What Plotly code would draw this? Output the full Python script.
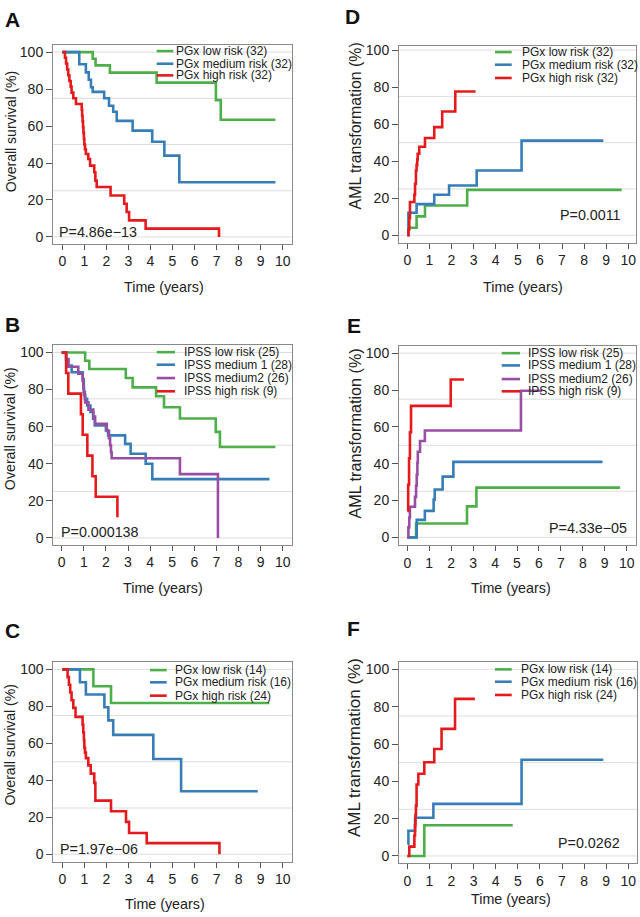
import plotly.graph_objects as go

W, H = 640, 917
GREEN = '#4daf4a'; BLUE = '#377eb8'; RED = '#e41a1c'; PURPLE = '#984ea3'
FONT = 'Liberation Sans, Arial, sans-serif'

# ---------------- data ----------------
# A: PGx overall survival
a_low_t = [0, 1.38, 1.51, 2.16, 4.28, 6.97, 7.19, 9.67]
a_low_s = [100, 96.4, 92.8, 88.9, 83.5, 74.0, 63.4, 63.4]
a_med_t = [0, 0.77, 1.07, 1.2, 1.3, 1.38, 1.9, 2.12, 2.31, 2.47, 3.19, 4.08, 4.63, 5.31, 9.67]
a_med_s = [100, 93.4, 89.0, 85.0, 81.0, 78.5, 75.0, 71.0, 67.7, 62.8, 57.5, 51.5, 44.0, 29.6, 29.6]
a_high_t = [0, 0.12, 0.17, 0.22, 0.27, 0.32, 0.38, 0.42, 0.5, 0.62, 0.88, 0.9, 0.92, 0.94, 0.96,
            0.98, 1.0, 1.03, 1.07, 1.18, 1.26, 1.45, 1.5, 1.56, 2.19, 2.81, 2.92, 3.03, 3.78, 7.11]
a_high_s = [100, 96.9, 93.8, 90.6, 87.5, 84.4, 81.3, 78.1, 75.0, 71.9, 68.8, 65.6, 62.5, 59.4, 56.3,
            53.1, 50.0, 47.4, 44.9, 42.2, 38.6, 35.0, 30.5, 27.0, 22.4, 18.0, 13.5, 9.0, 4.5, 0]

# B: IPSS overall survival
b_low_t = [0, 1.06, 1.25, 2.9, 3.21, 4.27, 4.63, 5.35, 6.97, 7.16, 9.67]
b_low_s = [100, 95.5, 91.1, 86.2, 81.2, 76.4, 70.5, 64.4, 57.2, 49.0, 49.0]
b_med1_t = [0, 0.2, 0.3, 0.45, 0.95, 1.0, 1.05, 1.15, 1.3, 1.42, 1.5, 2.0, 2.1, 2.87, 3.12, 3.8, 4.1, 9.4]
b_med1_s = [100, 96.4, 92.9, 89.3, 85.7, 78.6, 75.0, 71.4, 67.9, 64.3, 60.7, 58.0, 55.3, 50.7, 45.4, 40.0, 31.7, 31.7]
b_med2_t = [0, 0.2, 0.3, 0.75, 0.95, 0.98, 1.01, 1.06, 1.21, 1.43, 1.51, 2.04, 2.14, 2.19, 2.23, 2.26, 5.35, 7.07]
b_med2_s = [100, 96.2, 92.3, 88.5, 84.6, 80.8, 76.9, 73.1, 69.2, 65.4, 61.5, 57.7, 53.8, 50.0, 46.2, 43.0, 34.4, 0]
b_high_t = [0, 0.2, 0.3, 0.87, 0.95, 1.16, 1.39, 1.54, 2.52]
b_high_s = [100, 88.9, 77.8, 66.7, 55.6, 44.4, 33.3, 22.2, 11.1]

# C: PGx overall survival (validation)
c_low_t = [0, 1.41, 2.21, 9.39]
c_low_s = [100, 90.9, 81.8, 81.8]
c_med_t = [0, 0.8, 1.07, 1.91, 2.09, 2.31, 4.13, 5.39, 8.87]
c_med_s = [100, 93.0, 86.4, 79.5, 72.4, 64.6, 51.5, 34.1, 34.1]
c_high_t = [0, 0.24, 0.3, 0.36, 0.42, 0.5, 0.6, 0.92, 0.95, 0.98, 1.0, 1.03, 1.07, 1.18, 1.29,
            1.45, 1.5, 2.21, 2.89, 3.03, 3.83, 7.13]
c_high_s = [100, 95.8, 91.7, 87.5, 83.3, 79.2, 74.3, 70.1, 65.9, 61.8, 57.6, 55.0, 52.0, 48.1, 43.6,
            38.6, 29.0, 23.3, 17.5, 11.5, 6.0, 0]

# D: PGx AML transformation
d_low_t = [0, 0.42, 0.8, 2.71, 9.7]
d_low_s = [4.1, 10.2, 16.1, 24.5, 24.5]
d_med_t = [0, 0.05, 0.42, 1.22, 1.89, 3.14, 5.17, 8.87]
d_med_s = [0, 12.2, 16.8, 21.9, 26.9, 35.0, 51.1, 51.1]
d_high_t = [0, 0.05, 0.09, 0.12, 0.32, 0.35, 0.39, 0.42, 0.45, 0.47, 0.54, 0.8, 1.22, 1.58, 2.17, 3.09]
d_high_s = [0, 3.1, 9.4, 18.0, 21.9, 27.8, 35.0, 38.0, 41.0, 44.0, 47.8, 52.5, 58.4, 66.8, 77.6, 77.6]

# E: IPSS AML transformation
e_low_t = [0, 0.4, 2.72, 3.15, 9.7]
e_low_s = [0, 7.5, 16.8, 27.0, 27.0]
e_med1_t = [0, 0.43, 0.8, 1.2, 1.25, 1.61, 2.1, 8.9]
e_med1_s = [0, 9.5, 14.4, 20.5, 26.0, 33.0, 41.0, 41.0]
e_med2_t = [0, 0.05, 0.09, 0.12, 0.35, 0.4, 0.43, 0.46, 0.48, 0.58, 0.8, 5.18, 6.15]
e_med2_s = [0, 5.4, 10.8, 16.6, 22.0, 28.0, 34.0, 40.5, 46.5, 52.3, 58.0, 79.6, 79.6]
e_high_t = [0, 0.04, 0.08, 0.12, 0.17, 1.98, 2.58]
e_high_s = [14.3, 28.6, 42.9, 57.1, 71.4, 85.7, 85.7]

# F: PGx AML transformation (validation)
f_low_t = [0, 0.77, 4.77]
f_low_s = [0, 16.5, 16.5]
f_med_t = [0, 0.05, 0.35, 1.18, 5.17, 8.87]
f_med_s = [6.6, 13.5, 20.5, 27.9, 51.6, 51.6]
f_high_t = [0, 0.09, 0.32, 0.35, 0.37, 0.39, 0.42, 0.5, 0.77, 1.22, 1.55, 2.16, 3.06]
f_high_s = [0, 5.0, 11.0, 16.5, 22.0, 27.0, 38.3, 44.1, 50.2, 57.3, 68.1, 84.2, 84.2]

pgx32 = ['PGx low risk (32)', 'PGx medium risk (32)', 'PGx high risk (32)']
ipss = ['IPSS low risk (25)', 'IPSS medium 1 (28)', 'IPSS medium2 (26)', 'IPSS high risk (9)']
pgx_val = ['PGx low risk (14)', 'PGx medium risk (16)', 'PGx high risk (24)']

x_ticks = list(range(0, 11))
y_ticks = [0, 20, 40, 60, 80, 100]
grid_vals = [0, 25, 50, 75, 100]

# ---------------- layout helpers ----------------
def px(x):
    return x / W

def py(y):
    return 1 - y / H

panels = [
    dict(letter='A', lpos=(3, 16.5), box=(53, 292, 41.7, 241.7), xp=(62.3, 282.7), yp=(235, 49.3),
         series=[(a_low_t, a_low_s, GREEN), (a_med_t, a_med_s, BLUE), (a_high_t, a_high_s, RED)],
         labels=pgx32, leg_rows=[48.3, 61, 72.7], leg_line=(156.7, 173.3), leg_text=174,
         ytitle='Overall survival (%)', ytpos=(11.7, 129), ytsize=14,
         xtpos=(164, 285.7), pval='P=4.86e\u221213', ppos=(57.3, 230), palign='left'),
    dict(letter='B', lpos=(3, 322.5), box=(53.3, 292.3, 343.3, 544), xp=(61.7, 282.7), yp=(537.3, 351),
         series=[(b_low_t, b_low_s, GREEN), (b_med1_t, b_med1_s, BLUE), (b_med2_t, b_med2_s, PURPLE),
                 (b_high_t, b_high_s, RED)],
         labels=ipss, leg_rows=[350.7, 363.3, 376.7, 390], leg_line=(156.7, 175), leg_text=181.7,
         ytitle='Overall survival (%)', ytpos=(10, 428), ytsize=14.2,
         xtpos=(162.7, 587.3), pval='P=0.000138', ppos=(59.3, 531.7), palign='left'),
    dict(letter='C', lpos=(3, 630.5), box=(53.3, 292.3, 661.7, 862.3), xp=(62.3, 282.7), yp=(855, 669.3),
         series=[(c_low_t, c_low_s, GREEN), (c_med_t, c_med_s, BLUE), (c_high_t, c_high_s, RED)],
         labels=pgx_val, leg_rows=[670, 682.3, 695.7], leg_line=(150, 166.7), leg_text=173.3,
         ytitle='Overall survival (%)', ytpos=(10, 745.8), ytsize=14,
         xtpos=(164.5, 905), pval='P=1.97e\u221206', ppos=(58.3, 849.3), palign='left'),
    dict(letter='D', lpos=(343, 14), box=(399, 636, 42.7, 240.7), xp=(407.3, 628.3), yp=(233.3, 47.3),
         series=[(d_low_t, d_low_s, GREEN), (d_med_t, d_med_s, BLUE), (d_high_t, d_high_s, RED)],
         labels=pgx32, leg_rows=[49.3, 62, 75.3], leg_line=(495, 511.7), leg_text=520,
         ytitle='AML transformation (%)', ytpos=(355, 124), ytsize=15.9,
         xtpos=(523, 285), pval='P=0.0011', ppos=(622.7, 213.3), palign='right'),
    dict(letter='E', lpos=(345, 323.5), box=(399, 636, 345, 544.3), xp=(407.3, 626.7), yp=(536.7, 351.7),
         series=[(e_low_t, e_low_s, GREEN), (e_med1_t, e_med1_s, BLUE), (e_med2_t, e_med2_s, PURPLE),
                 (e_high_t, e_high_s, RED)],
         labels=ipss, leg_rows=[351.7, 364, 377.7, 390], leg_line=(501.7, 520), leg_text=526,
         ytitle='AML transformation (%)', ytpos=(355, 432.5), ytsize=16.2,
         xtpos=(510.8, 587.3), pval='P=4.33e\u221205', ppos=(629.3, 527.7), palign='right'),
    dict(letter='F', lpos=(345, 628.5), box=(399, 636.7, 662.3, 864), xp=(407.3, 628.3), yp=(856.7, 669.3),
         series=[(f_low_t, f_low_s, GREEN), (f_med_t, f_med_s, BLUE), (f_high_t, f_high_s, RED)],
         labels=pgx_val, leg_rows=[669.3, 681.7, 695], leg_line=(495, 511.7), leg_text=519.3,
         ytitle='AML transformation (%)', ytpos=(354, 748.3), ytsize=17,
         xtpos=(510.8, 900), pval='P=0.0262', ppos=(621.7, 843.3), palign='right'),
]

fig = go.Figure()
shapes = []
annotations = []
layout_axes = {}

for i, p in enumerate(panels, start=1):
    xs = '' if i == 1 else str(i)
    left, right, top, bottom = p['box']
    x0p, x10p = p['xp']
    y0p, y100p = p['yp']
    xppu = (x10p - x0p) / 10.0
    yppu = (y0p - y100p) / 100.0
    xr = [(left - x0p) / xppu, (right - x0p) / xppu]
    yr = [(y0p - bottom) / yppu, (y0p - top) / yppu]

    for (t, s, col) in p['series']:
        fig.add_trace(go.Scatter(x=t, y=s, mode='lines', line=dict(color=col, width=2.6, shape='hv'),
                                 xaxis='x' + xs, yaxis='y' + xs, showlegend=False, hoverinfo='skip'))

    layout_axes['xaxis' + xs] = dict(
        domain=[px(left), px(right)], anchor='y' + xs, range=xr, tickvals=x_ticks,
        ticks='outside', ticklen=5, tickwidth=1, tickcolor='#555', showline=True, mirror=True,
        linecolor='#888', linewidth=1, showgrid=False, zeroline=False, fixedrange=True,
        tickfont=dict(size=14, color='#222', family=FONT))
    layout_axes['yaxis' + xs] = dict(
        domain=[py(bottom), py(top)], anchor='x' + xs, range=yr, tickvals=y_ticks,
        ticks='outside', ticklen=6, tickwidth=1, tickcolor='#555', showline=True, mirror=True,
        linecolor='#888', linewidth=1, showgrid=False, zeroline=False, fixedrange=True,
        tickfont=dict(size=14, color='#222', family=FONT))

    for g in grid_vals:
        shapes.append(dict(type='line', xref='x' + xs + ' domain', yref='y' + xs, x0=0, x1=1, y0=g, y1=g,
                           line=dict(color='#dddddd', width=1), layer='below'))

    # legend (drawn manually for compact spacing)
    for (t, s, col), lab, ry in zip(p['series'], p['labels'], p['leg_rows']):
        shapes.append(dict(type='line', xref='paper', yref='paper', x0=px(p['leg_line'][0]),
                           x1=px(p['leg_line'][1]), y0=py(ry), y1=py(ry), line=dict(color=col, width=2.6)))
        annotations.append(dict(text=lab, xref='paper', yref='paper', x=px(p['leg_text']), y=py(ry),
                                xanchor='left', yanchor='middle', showarrow=False,
                                font=dict(size=12, color='#222', family=FONT)))

    annotations.append(dict(text='<b>' + p['letter'] + '</b>', xref='paper', yref='paper',
                            x=px(p['lpos'][0]), y=py(p['lpos'][1]), xanchor='left', yanchor='middle',
                            showarrow=False, font=dict(size=21, color='#111', family=FONT)))
    annotations.append(dict(text=p['ytitle'], xref='paper', yref='paper', x=px(p['ytpos'][0]),
                            y=py(p['ytpos'][1]), xanchor='center', yanchor='middle', textangle=-90,
                            showarrow=False, font=dict(size=p['ytsize'], color='#222', family=FONT)))
    annotations.append(dict(text='Time (years)', xref='paper', yref='paper', x=px(p['xtpos'][0]),
                            y=py(p['xtpos'][1]), xanchor='center', yanchor='middle',
                            showarrow=False, font=dict(size=14.3, color='#222', family=FONT)))
    annotations.append(dict(text=p['pval'], xref='paper', yref='paper', x=px(p['ppos'][0]),
                            y=py(p['ppos'][1]), xanchor=p['palign'], yanchor='middle',
                            showarrow=False, font=dict(size=14.3, color='#222', family=FONT)))

fig.update_layout(
    width=W, height=H, autosize=False,
    margin=dict(l=0, r=0, t=0, b=0),
    paper_bgcolor='white', plot_bgcolor='white',
    font=dict(family=FONT, color='#222'),
    shapes=shapes, annotations=annotations,
    **layout_axes
)

fig.write_html('out.html', config={'displayModeBar': False},
               post_script="document.body.style.margin='0';document.body.style.padding='0';"
                           "document.body.style.overflow='hidden';")
